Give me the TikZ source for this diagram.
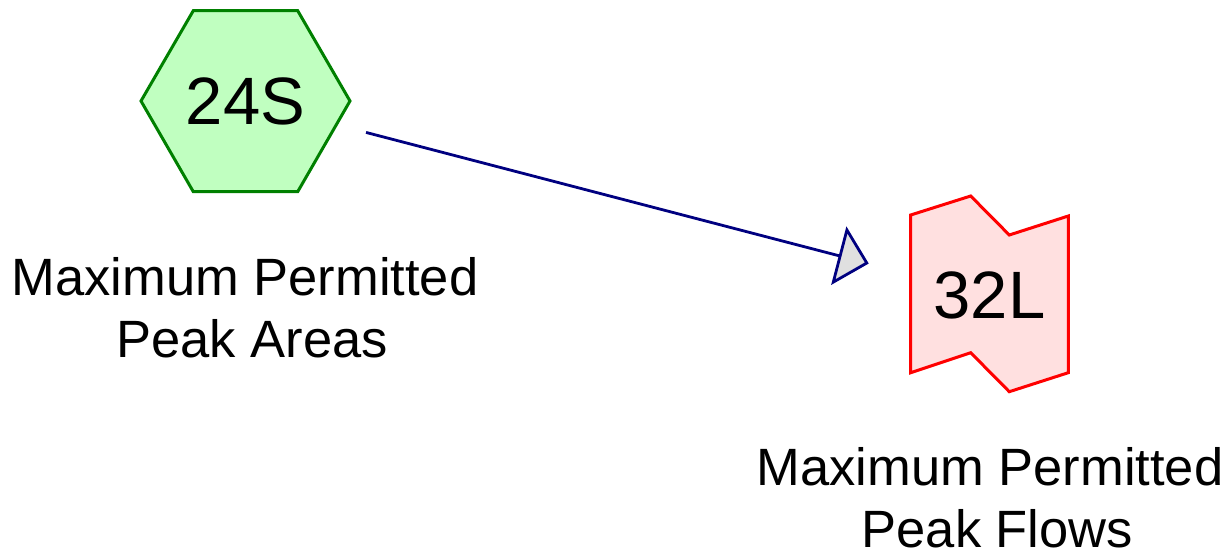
\documentclass[tikz,border=0pt]{standalone}
\usepackage{fontspec}
\setmainfont{Liberation Sans}
\usetikzlibrary{arrows.meta}

\definecolor{hexline}{RGB}{0,128,0}
\definecolor{hexfill}{RGB}{192,255,192}
\definecolor{reachline}{RGB}{255,0,0}
\definecolor{reachfill}{RGB}{255,224,224}
\definecolor{linkline}{RGB}{0,0,128}
\definecolor{tipfill}{RGB}{224,224,224}

% wrapped caption lines keep the break space in front of them
\newcommand{\wrapgap}{\hspace*{0.278em}}

\tikzset{
  idtext/.style={inner sep=0pt, font=\fontsize{67}{80}\selectfont},
  caption/.style={inner sep=0pt, align=center, font=\fontsize{52.5}{62}\selectfont},
  subcat/.style={draw=hexline, fill=hexfill, line width=3pt, line join=miter},
  reach/.style={draw=reachline, fill=reachfill, line width=3pt, line join=miter},
  link/.style={draw=linkline, line width=2.8pt,
    -{Triangle[length=31pt, width=60pt, fill=tipfill, line join=miter]}},
}

\begin{document}
\begin{tikzpicture}[x=1pt, y=-1pt]
  \useasboundingbox (0,0) rectangle (1232,556);

  % subcatchment hexagon
  \path[subcat] (193.3,10.7) -- (297.7,10.7) -- (350,101) -- (297.7,191.7)
    -- (193.3,191.7) -- (141,101) -- cycle;
  \node[idtext] (s24) at (245.5,101) {24S};
  \node[caption] (s24cap) at (245,308) {Maximum Permitted\\\wrapgap Peak Areas};

  % reach outline
  \path[reach] (910.7,215) -- (970.7,196) -- (1009.3,235) -- (1068.3,216)
    -- (1068.3,372.7) -- (1009.3,391.7) -- (970.7,352.7) -- (910.7,372.7) -- cycle;
  \node[idtext] (r32) at (989.5,295) {32L};
  \node[caption] (r32cap) at (990,498) {Maximum Permitted\\\wrapgap Peak Flows};

  % flow link
  \draw[link, shorten <=124.6pt, shorten >=124.8pt] (s24.center) -- (r32.center);
\end{tikzpicture}
\end{document}
